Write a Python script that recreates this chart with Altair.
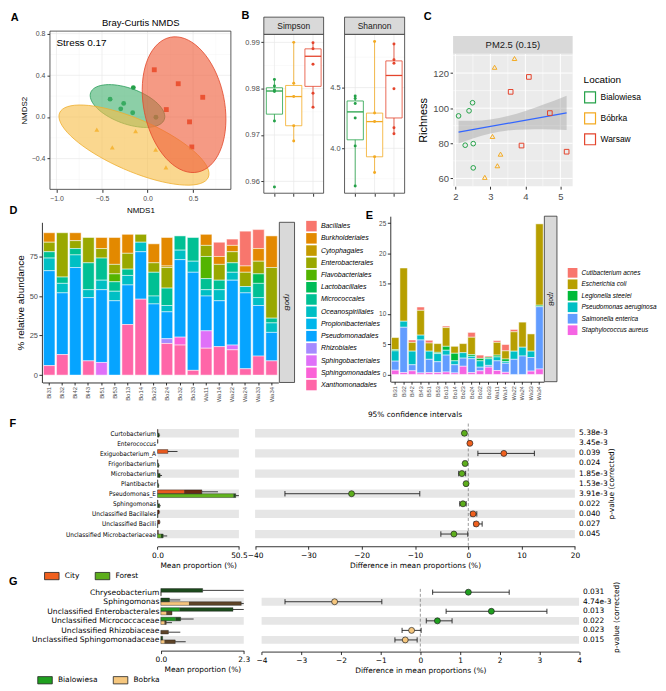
import math
import altair as alt
import pandas as pd

S = 0.975
W, H = 650, 675


def P(v):
    return round(v * S, 2)


SANS = "Liberation Sans, Arial, Helvetica, sans-serif"
MPL = "DejaVu Sans, Bitstream Vera Sans, sans-serif"
MPLC = "DejaVu Sans Condensed, DejaVu Sans, sans-serif"
GRAY30 = "#4D4D4D"

# ---------------- shared ----------------
LOCS = ["Bialowiesa", "Bóbrka", "Warsaw"]
LOC_COLORS = ["#24A148", "#F3AA22", "#E4442C"]

# ---------------- A : Bray-Curtis NMDS ----------------
A_LOC = ["Warsaw"] * 6 + ["Bialowiesa"] * 6 + ["Bóbrka"] * 5
A_X = [0.074, 0.337, 0.606, 0.206, 0.461, 0.486,
       -0.156, -0.411, -0.262, -0.294, -0.163, 0.092,
       -0.557, -0.131, -0.387, 0.089, 0.202]
A_Y = [0.453, 0.319, 0.189, 0.071, -0.047, -0.288,
       0.282, 0.171, 0.130, 0.078, 0.040, -0.003,
       -0.121, -0.136, -0.291, -0.313, -0.484]
A_SHAPES = ["circle", "triangle-up", "square"]
# ellipse centre and half-axis vectors (Bialowiesa, Bobrka, Warsaw)
ELL_CX = [-0.220, -0.149, 0.401]
ELL_CY = [0.105, -0.270, 0.118]
ELL_UX = [0.404, 0.816, 0.151]
ELL_UY = [-0.129, -0.310, -0.647]
ELL_VX = [0.067, 0.113, 0.434]
ELL_VY = [0.160, 0.228, 0.078]
ELL_FILL = ["#45B271", "#F7BE4A", "#EF5C38"]
ELL_STROKE = ["#2A9D5A", "#EFAE2E", "#E2472A"]
A_MAJOR_X = [-1.0, -0.5, 0.0, 0.5]
A_MINOR_X = [-0.75, -0.25, 0.25, 0.75]
A_MAJOR_Y = [-0.4, 0.0, 0.4, 0.8]
A_MINOR_Y = [-0.6, -0.2, 0.2, 0.6]

# ---------------- B : alpha diversity ----------------
SIMP_LO = [0.9730, 0.9687, 0.9760]
SIMP_Q1 = [0.9745, 0.9720, 0.9805]
SIMP_MED = [0.9795, 0.9783, 0.9870]
SIMP_Q3 = [0.9802, 0.9807, 0.9886]
SIMP_HI = [0.9820, 0.9900, 0.9899]
SIMP_PTS = [[0.9820, 0.9806, 0.9797, 0.9794, 0.9730, 0.9588],
            [0.9900, 0.9812, 0.9783, 0.9720, 0.9687],
            [0.9899, 0.9886, 0.9853, 0.9790, 0.9760]]
SHAN_LO = [3.69, 3.80, 4.12]
SHAN_Q1 = [4.07, 3.93, 4.25]
SHAN_MED = [4.30, 4.22, 4.60]
SHAN_Q3 = [4.39, 4.29, 4.72]
SHAN_HI = [4.43, 4.88, 4.86]
SHAN_PTS = [[4.43, 4.41, 4.37, 4.25, 4.02, 3.69],
            [4.88, 4.29, 4.22, 3.93, 3.80],
            [4.86, 4.73, 4.70, 4.49, 4.17, 4.12]]

# ---------------- C : richness vs PM2.5 ----------------
C_LOC = ["Bialowiesa"] * 6 + ["Bóbrka"] * 6 + ["Warsaw"] * 5
C_PM = [2.09, 2.39, 2.49, 2.28, 2.51, 2.51,
        3.69, 3.12, 3.06, 3.29, 3.20, 2.84,
        4.10, 3.58, 4.70, 3.89, 5.18]
C_RICH = [95.6, 98.5, 103.1, 78.9, 79.8, 66.0,
          128.3, 123.3, 83.9, 73.8, 67.2, 60.6,
          117.8, 109.3, 97.2, 78.7, 75.2]
C_SHAPES = ["circle", "triangle-up", "square"]
C_BAND_X = [2.09, 2.5, 3.0, 3.5, 4.0, 4.5, 5.18]
C_BAND_LO = [79.9, 82.7, 85.6, 87.3, 87.9, 88.0, 87.6]
C_BAND_HI = [92.9, 92.9, 93.6, 95.5, 98.4, 101.9, 107.1]

# ---------------- D / E : stacked bars ----------------
SAMPLES = ["Bi31", "Bi32", "Bi42", "Bi43", "Bi51", "Bi53", "Bo13", "Bo14", "Bo23",
           "Bo24", "Bo32", "Bo33", "Wa11", "Wa14", "Wa22", "Wa24", "Wa33", "Wa34"]
D_ORDERS = ["Bacillales", "Burkholderiales", "Cytophagales", "Enterobacterales",
            "Flavobacteriales", "Lactobacillales", "Micrococcales", "Oceanospirillales",
            "Propionibacteriales", "Pseudomonadales", "Rhizobiales", "Sphingobacteriales",
            "Sphingomonadales", "Xanthomonadales"]
D_COLORS = ["#F8766D", "#E38900", "#C49A00", "#99A800", "#53B400", "#00BC56", "#00C094",
            "#00BFC4", "#00B6EB", "#06A4FF", "#A58AFF", "#DF70F8", "#FB61D7", "#FF66A8"]
D_BACILLALES = [0, 0, 0, 0, 0, 0, 0, 0, 0, 0, 0, 0, 0, 9, 4, 22, 12, 0]
D_BURKHOLDERIALES = [6, 0, 5, 0, 7, 17, 12, 0, 12, 18, 0, 0, 7, 5, 4, 4, 8, 20]
D_CYTOPHAGALES = [0, 0, 0, 0, 0, 0, 0, 0, 0, 1, 0, 0, 0, 0, 0, 0, 0, 0]
D_ENTEROBACTERALES = [6, 28, 5, 16, 6, 6, 10, 5, 6, 13, 0, 0, 7, 10, 7, 9, 8, 32]
D_FLAVOBACTERIALES = [0, 0, 0, 0, 0, 5, 0, 0, 0, 0, 0, 0, 14, 0, 0, 0, 0, 0]
D_LACTOBACILLALES = [0, 0, 0, 0, 0, 0, 0, 0, 0, 0, 0, 0, 0, 0, 0, 0, 6, 0]
D_MICROCOCCALES = [4, 4, 4, 17, 14, 6, 4, 0, 15, 11, 9, 15, 7, 6, 6, 0, 9, 3]
D_OCEANOSPIRILLALES = [8, 6, 8, 5, 6, 6, 6, 6, 5, 4, 6, 7, 4, 7, 5, 4, 5, 6]
D_PROPIONIBACTERIALES = [0] * 18
D_PSEUDOMONADALES = [60, 39, 68, 40, 46, 47, 25, 30, 45, 17, 49, 62, 22, 29, 41, 48, 32, 18]
D_RHIZOBIALES = [0, 0, 0, 0, 0, 0, 0, 0, 0, 3, 0, 0, 0, 0, 0, 0, 0, 0]
D_SPHINGOBACTERIALES = [0, 0, 0, 0, 8, 0, 0, 0, 0, 0, 0, 0, 11, 0, 3, 0, 0, 0]
D_SPHINGOMONADALES = [0, 0, 0, 0, 0, 0, 0, 0, 0, 0, 5, 0, 0, 0, 0, 0, 0, 0]
D_XANTHOMONADALES = [6, 13, 0, 9, 0, 0, 32, 48, 0, 20, 19, 3, 17, 18, 16, 4, 12, 9]
D_VALUES = [D_BACILLALES, D_BURKHOLDERIALES, D_CYTOPHAGALES, D_ENTEROBACTERALES,
            D_FLAVOBACTERIALES, D_LACTOBACILLALES, D_MICROCOCCALES, D_OCEANOSPIRILLALES,
            D_PROPIONIBACTERIALES, D_PSEUDOMONADALES, D_RHIZOBIALES, D_SPHINGOBACTERIALES,
            D_SPHINGOMONADALES, D_XANTHOMONADALES]

E_SPECIES = ["Cutibacterium acnes", "Escherichia coli", "Legionella steelei",
             "Pseudomonas aeruginosa", "Salmonella enterica", "Staphylococcus aureus"]
E_COLORS = ["#F8766D", "#B79F00", "#00BA38", "#00BFC4", "#619CFF", "#F564E3"]
E_CUTIBACTERIUM = [0, 0, 0.4, 0.55, 0.45, 0, 0.25, 0, 0, 0.8, 0.55, 0.2, 0.3, 1.05, 0.4, 0, 0, 0]
E_ECOLI = [2.0, 8.8, 1.45, 4.1, 1.35, 1.45, 3.1, 1.15, 1.5, 2.85, 0, 0, 2.1, 1.35, 3.2, 4.15, 2.85, 13.45]
E_LEGIONELLA = [0.2, 0, 0, 0, 0, 0.2, 0.65, 1.25, 0, 0.3, 0.4, 0.25, 0.3, 0.4, 0, 0, 0, 0.25]
E_PAERUGINOSA = [1.7, 1.0, 2.25, 0.8, 1.35, 1.35, 0.8, 0.65, 0.9, 0.4, 1.05, 1.1, 0.65, 0.3, 1.35, 1.45, 1.05, 0]
E_SALMONELLA = [1.5, 7.5, 1.0, 5.45, 2.2, 1.8, 2.8, 1.35, 1.35, 2.3, 0.6, 0.3, 1.6, 1.5, 2.5, 3.05, 2.25, 10.3]
E_STAPH = [0.7, 0.3, 0.6, 0.25, 0.3, 0.3, 0.4, 0.25, 1.35, 0.3, 0.6, 1.2, 0.65, 0.35, 0, 0, 0.55, 0.9]
E_VALUES = [E_CUTIBACTERIUM, E_ECOLI, E_LEGIONELLA, E_PAERUGINOSA, E_SALMONELLA, E_STAPH]

# ---------------- F : City vs Forest ----------------
F_NAMES = ["Curtobacterium", "Enterococcus", "Exiguobacterium_A", "Frigoribacterium",
           "Microbacterium", "Plantibacter", "Pseudomonas_E", "Sphingomonas",
           "Unclassified Bacillales", "Unclassified Bacilli", "Unclassified Microbacteriaceae"]
F_DIFF = [-0.73, 0.30, 6.67, -0.60, -1.20, -0.42, -21.9, -1.00, 0.90, 1.50, -2.70]
F_LO = [-1.00, 0.15, 1.80, -0.85, -1.80, -0.65, -34.4, -1.60, 0.50, 1.10, -5.15]
F_HI = [-0.45, 0.45, 12.4, -0.35, -0.50, -0.20, -9.1, -0.40, 1.60, 2.60, -0.10]
F_P = ["5.38e-3", "3.45e-3", "0.039", "0.024", "1.85e-3", "1.53e-3", "3.91e-3",
       "0.022", "0.040", "0.027", "0.045"]
F_GROUPS = ["City", "Forest"]
F_CITY_LIGHT = [0, 0, 6.4, 0, 0, 0, 16.5, 0, 0, 0, 0]
F_CITY_BAR = [0.3, 0.3, 6.4, 0.2, 0.4, 0.2, 27.5, 0.3, 1.0, 1.3, 0.5]
F_CITY_ERR = [0.3, 0.3, 12.4, 0.2, 0.4, 0.2, 37.5, 0.3, 1.6, 1.8, 0.5]
F_FOREST_LIGHT = [0, 0, 0, 0, 0, 0, 47.0, 0, 0, 0, 2.0]
F_FOREST_BAR = [1.0, 0, 0, 0.8, 1.6, 0.7, 48.5, 1.3, 0.3, 0.2, 3.5]
F_FOREST_ERR = [1.6, 0, 0, 1.2, 2.8, 1.0, 50.5, 2.0, 0.3, 0.2, 6.0]

# ---------------- G : Bialowiesa vs Bobrka ----------------
G_NAMES = ["Chryseobacterium", "Sphingomonas", "Unclassified Enterobacterales",
           "Unclassified Micrococcaceae", "Unclassified Rhizobiaceae",
           "Unclassified Sphingomonadaceae"]
G_DIFF = [1.21, -2.16, 1.79, 0.43, -0.22, -0.38]
G_LO = [0.31, -3.41, 0.65, 0.15, -0.46, -0.64]
G_HI = [2.24, -0.97, 3.19, 0.80, 0.02, -0.08]
G_P = ["0.031", "4.74e-3", "0.013", "0.022", "0.023", "0.015"]
G_GROUPS = ["Bialowiesa", "Bobrka"]
G_BIA_LIGHT = [0, 0, 0.51, 0.40, 0, 0]
G_BIA_BAR = [1.16, 0.24, 2.0, 0.55, 0, 0.05]
G_BIA_ERR = [2.3, 0.54, 2.3, 0.91, 0, 0.05]
G_BOB_LIGHT = [0, 0.78, 0.15, 0.10, 0, 0.10]
G_BOB_BAR = [0.01, 2.23, 0.31, 0.15, 0.21, 0.40]
G_BOB_ERR = [0.01, 2.3, 0.31, 0.31, 0.54, 0.69]


# =============== helpers ===============
def one():
    return alt.Data(values=[{"k": 0}])


def txt(s, x, y, size, font=SANS, weight="normal", angle=None, align="center",
        baseline="middle", style=None, color="black"):
    kw = dict(text=s, fontSize=size, font=font, fontWeight=weight, align=align,
              baseline=baseline, color=color)
    if angle is not None:
        kw["angle"] = angle
    if style:
        kw["fontStyle"] = style
    return alt.Chart(one()).mark_text(**kw).encode(x=alt.value(P(x)), y=alt.value(P(y)))


def rect(x1, y1, x2, y2, fill="transparent", stroke=None, sw=0.8):
    kw = dict(fill=fill)
    if stroke:
        kw.update(stroke=stroke, strokeWidth=sw)
    else:
        kw.update(strokeWidth=0)
    return alt.Chart(one()).mark_rect(**kw).encode(
        x=alt.value(P(x1)), x2=alt.value(P(x2)), y=alt.value(P(y1)), y2=alt.value(P(y2)))


def vgrid(vals, xs, xaxis, y1, y2, color, w):
    return alt.Chart(pd.DataFrame({"v": vals})).mark_rule(color=color, strokeWidth=w).encode(
        x=alt.X("v:Q", scale=xs, axis=xaxis), y=alt.value(P(y1)), y2=alt.value(P(y2)))


def hgrid(vals, ys, yaxis, x1, x2, color, w):
    return alt.Chart(pd.DataFrame({"v": vals})).mark_rule(color=color, strokeWidth=w).encode(
        y=alt.Y("v:Q", scale=ys, axis=yaxis), x=alt.value(P(x1)), x2=alt.value(P(x2)))


def AX(orient, offset, values=None, fmt=None, title=None, font=SANS, lsize=7.5, tsize=9,
       domain=False, ticks=True, labels=True, lcolor=GRAY30, tpad=3, lpad=2, tick=3, **kw):
    d = dict(orient=orient, offset=offset, grid=False, labelFont=font, titleFont=font,
             labelFontSize=lsize, titleFontSize=tsize, labelColor=lcolor, titleColor="black",
             titleFontWeight="normal", tickColor="#333333", tickSize=tick, domain=domain,
             ticks=ticks, labels=labels, labelFlush=False, labelOverlap=False,
             labelPadding=lpad, titlePadding=tpad, title=title)
    if domain:
        d["domainColor"] = "#000000"
        d["domainWidth"] = 0.8
    if values is not None:
        d["values"] = values
    if fmt:
        d["format"] = fmt
    d.update(kw)
    return alt.Axis(**d)


def lin(dom, rng):
    return alt.Scale(domain=dom, range=rng, nice=False, zero=False)


layers = []

# =============== A ===============
ax = lin([-1.0713, 0.915], [P(43.3), P(230)])
ay = lin([-0.695, 0.8242], [P(185), P(21.7)])
AXX = AX("bottom", P(185) - H, values=A_MAJOR_X, fmt=".1f", title="NMDS1", lsize=7,
         tsize=8, tpad=5)
AXY = AX("left", -P(43.3), values=A_MAJOR_Y, fmt=".1f", title="NMDS2", lsize=7, tsize=8,
         tpad=3)
a_df = pd.DataFrame({"x": A_X, "y": A_Y, "loc": A_LOC})
a_df["c"] = [LOC_COLORS[LOCS.index(v)] for v in A_LOC]
a_df["s"] = [A_SHAPES[LOCS.index(v)] for v in A_LOC]
a_layers = [
    rect(43.3, 21.7, 230, 185, fill="white"),
    vgrid(A_MINOR_X, ax, AXX, 21.7, 185, "#F3F3F3", 0.4),
    hgrid(A_MINOR_Y, ay, AXY, 43.3, 230, "#F3F3F3", 0.4),
    vgrid(A_MAJOR_X, ax, AXX, 21.7, 185, "#E8E8E8", 0.7),
    hgrid(A_MAJOR_Y, ay, AXY, 43.3, 230, "#E8E8E8", 0.7),
    alt.Chart(a_df).mark_point(filled=True, size=24, opacity=1).encode(
        x=alt.X("x:Q", scale=ax, axis=AXX),
        y=alt.Y("y:Q", scale=ay, axis=AXY),
        color=alt.Color("c:N", scale=None),
        shape=alt.Shape("s:N", scale=None)),
]
for k in range(3):
    rows = []
    for t in range(73):
        a = 2 * math.pi * t / 72
        rows.append({"t": t,
                     "x": ELL_CX[k] + ELL_UX[k] * math.cos(a) + ELL_VX[k] * math.sin(a),
                     "y": ELL_CY[k] + ELL_UY[k] * math.cos(a) + ELL_VY[k] * math.sin(a)})
    a_layers.append(
        alt.Chart(pd.DataFrame(rows)).mark_line(
            interpolate="linear-closed", fill=ELL_FILL[k], fillOpacity=0.62,
            stroke=ELL_STROKE[k], strokeWidth=0.8).encode(
            x=alt.X("x:Q", scale=ax, axis=AXX), y=alt.Y("y:Q", scale=ay, axis=AXY),
            order="t:Q"))
a_layers += [
    rect(43.3, 21.7, 230, 185, stroke="#333333", sw=0.8),
    txt("Stress 0.17", 50, 33.5, 10, align="left"),
    txt("Bray-Curtis NMDS", 137, 13.3, 9.5),
]
layers.append(alt.layer(*a_layers))


# =============== B ===============
def box_panel(lo, q1, med, q3, hi, pts, x0, x1, ydom, ticks, minor, fmt, strip):
    xs = lin([0.45, 3.55], [P(x0), P(x1)])
    ys = lin(ydom, [P(189), P(25)])
    BX = AX("bottom", P(189) - H, values=[1, 2, 3], labels=False, tick=3)
    BY = AX("left", -P(x0), values=ticks, fmt=fmt, lsize=7.5, lpad=1.5)
    st = pd.DataFrame({"pos": [1, 2, 3], "lo": lo, "q1": q1, "med": med, "q3": q3,
                       "hi": hi, "c": LOC_COLORS})
    st["xl"] = st["pos"] - 0.42
    st["xr"] = st["pos"] + 0.42
    recs = []
    for k, vals in enumerate(pts):
        for v in vals:
            recs.append({"pos": k + 1, "v": v, "c": LOC_COLORS[k]})
    pdf = pd.DataFrame(recs)
    return alt.layer(
        rect(x0, 25, x1, 189, fill="white"),
        hgrid(minor, ys, BY, x0, x1, "#F3F3F3", 0.4),
        hgrid(ticks, ys, BY, x0, x1, "#E8E8E8", 0.7),
        vgrid([1, 2, 3], xs, BX, 25, 189, "#E8E8E8", 0.7),
        alt.Chart(st).mark_rule(strokeWidth=0.8).encode(
            x=alt.X("pos:Q", scale=xs, axis=BX), y=alt.Y("lo:Q", scale=ys, axis=BY),
            y2="hi", color=alt.Color("c:N", scale=None)),
        alt.Chart(st).mark_rect(fill="white", strokeWidth=0.8).encode(
            x=alt.X("xl:Q", scale=xs, axis=BX),
            x2="xr", y=alt.Y("q1:Q", scale=ys, axis=BY), y2="q3",
            stroke=alt.Stroke("c:N", scale=None)),
        alt.Chart(st).mark_rule(strokeWidth=1.3).encode(
            x=alt.X("xl:Q", scale=xs, axis=BX), x2="xr",
            y=alt.Y("med:Q", scale=ys, axis=BY), color=alt.Color("c:N", scale=None)),
        alt.Chart(pdf).mark_circle(size=9, opacity=1).encode(
            x=alt.X("pos:Q", scale=xs, axis=BX),
            y=alt.Y("v:Q", scale=ys, axis=BY),
            color=alt.Color("c:N", scale=None)),
        rect(x0, 25, x1, 189, stroke="#333333", sw=0.8),
        rect(x0, 7.3, x1, 25, fill="#D9D9D9", stroke="#333333", sw=0.8),
        txt(strip, (x0 + x1) / 2, 16.3, 8.5, color="#1A1A1A"),
    )


layers.append(box_panel(SIMP_LO, SIMP_Q1, SIMP_MED, SIMP_Q3, SIMP_HI, SIMP_PTS, 264, 325.7,
                        [0.95743, 0.99174], [0.96, 0.97, 0.98, 0.99],
                        [0.965, 0.975, 0.985], ".2f", "Simpson"))
layers.append(box_panel(SHAN_LO, SHAN_Q1, SHAN_MED, SHAN_Q3, SHAN_HI, SHAN_PTS, 347.3, 409.3,
                        [3.630, 4.939], [4.0, 4.5], [3.75, 4.25, 4.75], ".1f", "Shannon"))

# =============== C ===============
cx = lin([1.9335, 5.352], [P(459.3), P(582.7)])
cy = lin([55.58, 131.04], [P(181.7), P(45)])
CXA = AX("bottom", P(181.7) - H, values=[2, 3, 4, 5], lsize=9.5, lpad=2)
CYA = AX("left", -P(459.3), values=[60, 80, 100, 120], lsize=9.5, lpad=1.5, title="Richness",
         tsize=11, tpad=4)
c_df = pd.DataFrame({"pm": C_PM, "rich": C_RICH, "loc": C_LOC})
c_df["shp"] = [C_SHAPES[LOCS.index(v)] for v in C_LOC]
c_band = pd.DataFrame({"bx": C_BAND_X, "lo": C_BAND_LO, "hi": C_BAND_HI})
layers.append(alt.layer(
    rect(459.3, 45, 582.7, 181.7, fill="#EBEBEB"),
    vgrid([2.5, 3.5, 4.5], cx, CXA, 45, 181.7, "white", 0.5),
    hgrid([70, 90, 110, 130], cy, CYA, 459.3, 582.7, "white", 0.5),
    vgrid([2, 3, 4, 5], cx, CXA, 45, 181.7, "white", 1.0),
    hgrid([60, 80, 100, 120], cy, CYA, 459.3, 582.7, "white", 1.0),
    alt.Chart(c_band).mark_area(color="#999999", opacity=0.4, interpolate="monotone").encode(
        x=alt.X("bx:Q", scale=cx, axis=CXA), y=alt.Y("lo:Q", scale=cy, axis=CYA), y2="hi"),
    alt.Chart(c_df).transform_regression("pm", "rich").mark_line(
        color="#3366FF", strokeWidth=1.3).encode(
        x=alt.X("pm:Q", scale=cx, axis=CXA), y=alt.Y("rich:Q", scale=cy, axis=CYA)),
    alt.Chart(c_df).mark_point(filled=False, size=22, strokeWidth=1, opacity=1).encode(
        x=alt.X("pm:Q", scale=cx, axis=CXA),
        y=alt.Y("rich:Q", scale=cy, axis=CYA),
        color=alt.Color("loc:N", scale=alt.Scale(domain=LOCS, range=LOC_COLORS),
                        legend=alt.Legend(orient="none", legendX=P(594), legendY=P(67),
                                          title="Location", titleFont=SANS,
                                          titleFontSize=10, titleFontWeight="normal",
                                          titlePadding=6, labelFont=SANS, labelFontSize=8.5,
                                          labelColor="black", symbolType="square",
                                          symbolSize=120, symbolStrokeWidth=1.2,
                                          symbolFillColor="white", rowPadding=4.1,
                                          labelOffset=4, padding=0)),
        shape=alt.Shape("shp:N", scale=None)),
    rect(459.3, 26.7, 582.7, 45, fill="#D9D9D9"),
    txt("PM2.5 (0.15)", 521, 36, 9.5, color="#1A1A1A"),
))


# =============== D and E ===============
def stacked(cats, colors, values, xr, yr_px, ydom, yticks, strip_x, leg, lsize, ysize,
            legsym, legrow, legfont, ytitle=None):
    recs = []
    n = len(cats)
    for j, c in enumerate(cats):
        for s, v in zip(SAMPLES, values[j]):
            if v > 0:
                recs.append({"sample": s, "cat": c, "v": v, "ord": n - j})
    df = pd.DataFrame(recs)
    xs = alt.Scale(domain=SAMPLES, range=[P(xr[0]), P(xr[1])], paddingInner=0.12,
                   paddingOuter=0.08)
    ys = lin(ydom, [P(yr_px[1]), P(yr_px[0])])
    yax = AX("left", -P(xr[0] - 0.5), values=yticks, lsize=ysize, domain=True, lpad=1.5,
             title=ytitle, tsize=10, tpad=4)
    return alt.layer(
        alt.Chart(df).mark_bar(stroke="white", strokeWidth=0.5).encode(
            x=alt.X("sample:N", scale=xs,
                    axis=AX("bottom", P(yr_px[1]) - H, lsize=lsize, domain=True,
                            labelAngle=270, tick=2.5, lpad=1.5)),
            y=alt.Y("v:Q", stack="zero", scale=ys, axis=yax),
            color=alt.Color("cat:N", scale=alt.Scale(domain=cats, range=colors), title=None,
                            legend=alt.Legend(orient="none", legendX=P(leg[0]),
                                              legendY=P(leg[1]), symbolType="square",
                                              symbolSize=legsym, symbolStrokeWidth=0,
                                              labelFont=SANS, labelFontSize=legfont,
                                              labelFontStyle="italic", labelColor="black",
                                              labelOffset=4, rowPadding=legrow, padding=0,
                                              labelLimit=220)),
            order=alt.Order("ord:Q")),
        rect(strip_x[0], yr_px[0], strip_x[1], yr_px[1], fill="#D9D9D9", stroke="#333333",
             sw=0.8),
        txt("rpoB", (strip_x[0] + strip_x[1]) / 2, (yr_px[0] + yr_px[1]) / 2,
            8 if ytitle else 6.5, style="italic", angle=90, color="#1A1A1A"),
    )


layers.append(stacked(D_ORDERS, D_COLORS, D_VALUES, (35.5, 279), (219, 384.3),
                      [-4.66, 96.6], [0, 25, 50, 75], (280, 295.7), (307.5, 217.3),
                      6, 7.5, 112, 1.3, 7, ytitle="% relative abundance"))
layers.append(stacked(E_SPECIES, E_COLORS, E_VALUES, (395, 553), (212.7, 383.5),
                      [-1.2, 26.17], [0, 5, 10, 15, 20, 25], (553.5, 566.5), (577.5, 266),
                      5.5, 6.5, 95, 1.55, 6.5))


# =============== F and G (extended error bar plots) ===============
def stamp(names, diffs, los, his, pvals, g1, g2, groups, light, dark, dotc,
          lx, lmax, rdom, rticks, rx, rows_y, axy, band_par, px, rot_xy, dash_y, leg_xy,
          name_font, name_size, top_title=None):
    n = len(names)
    ys = lin([-0.5, n - 0.5], [P(rows_y[0]), P(rows_y[1])])
    xl = lin([0, lmax], [P(lx[0]), P(lx[1])])
    xr = lin(rdom, [P(rx[0]), P(rx[1])])
    label_expr = "[" + ",".join("'" + s + "'" for s in names) + "][datum.value]"
    XLA = AX("bottom", P(axy[0]) - H, values=[0, lmax], fmt=".1f",
             title="Mean proportion (%)", font=MPL, lsize=7.5, tsize=7.5, domain=True,
             lcolor="black", tpad=3)
    YLA = AX("left", -P(lx[0]), values=list(range(n)), labelExpr=label_expr, font=name_font,
             lsize=name_size, lcolor="black", ticks=False, lpad=2)
    XRA = AX("bottom", P(axy[1]) - H, values=rticks, fmt="d",
             title="Difference in mean proportions (%)", font=MPL, lsize=7.5, tsize=7.5,
             domain=True, lcolor="black", tpad=3)
    band_rows = [i for i in range(n) if i % 2 == band_par]
    bl = pd.DataFrame({"i": band_rows})
    bl["y0"] = bl["i"] - 0.41
    bl["y1"] = bl["i"] + 0.41
    bl["a"] = 0.0
    bl["b"] = lmax
    br = bl.copy()
    br["a"] = float(rdom[0])
    br["b"] = float(rdom[1])
    recs = []
    for k, (L, B, E) in enumerate([g1, g2]):
        for i in range(n):
            y0 = i - 0.38 if k == 0 else i
            y1 = i if k == 0 else i + 0.38
            recs.append(dict(i=i, y0=y0, y1=y1, ym=(y0 + y1) / 2, z=0.0, l=L[i], d=B[i],
                             e=E[i], lc=light[k], dc=dark[k]))
    bd = pd.DataFrame(recs)
    left = alt.layer(
        alt.Chart(bl).mark_rect(fill="#E6E6E6", strokeWidth=0).encode(
            x=alt.X("a:Q", scale=xl, axis=XLA), x2="b",
            y=alt.Y("y0:Q", scale=ys, axis=YLA), y2="y1"),
        alt.Chart(bd[bd["l"] > 0]).mark_rect(strokeWidth=0).encode(
            x=alt.X("z:Q", scale=xl, axis=XLA), x2="l",
            y=alt.Y("y0:Q", scale=ys, axis=YLA), y2="y1",
            fill=alt.Fill("lc:N", scale=None)),
        alt.Chart(bd[bd["d"] > bd["l"]]).mark_rect(strokeWidth=0).encode(
            x=alt.X("l:Q", scale=xl, axis=XLA), x2="d",
            y=alt.Y("y0:Q", scale=ys, axis=YLA), y2="y1",
            fill=alt.Fill("dc:N", scale=None)),
        alt.Chart(bd[bd["d"] > 0]).mark_rect(fill="transparent", stroke="#1A1A1A",
                                             strokeWidth=0.4).encode(
            x=alt.X("z:Q", scale=xl, axis=XLA), x2="d",
            y=alt.Y("y0:Q", scale=ys, axis=YLA), y2="y1"),
        alt.Chart(bd[bd["e"] > bd["d"]]).mark_rule(color="#111111", strokeWidth=0.8).encode(
            x=alt.X("d:Q", scale=xl, axis=XLA), x2="e",
            y=alt.Y("ym:Q", scale=ys, axis=YLA)),
    )
    pts = pd.DataFrame({"i": list(range(n)), "d": diffs, "lo": los, "hi": his, "p": pvals})
    pts["grp"] = [groups[0] if v > 0 else groups[1] for v in diffs]
    caps = pd.DataFrame({"cx": list(los) + list(his), "i": list(range(n)) * 2})
    caps["c0"] = caps["i"] - 0.27
    caps["c1"] = caps["i"] + 0.27
    right_layers = [
        alt.Chart(br).mark_rect(fill="#E6E6E6", strokeWidth=0).encode(
            x=alt.X("a:Q", scale=xr, axis=XRA),
            x2="b", y=alt.Y("y0:Q", scale=ys, axis=None), y2="y1"),
        alt.Chart(pd.DataFrame({"z": [0.0]})).mark_rule(
            color="#7F7F7F", strokeDash=[3, 2], strokeWidth=0.8).encode(
            x=alt.X("z:Q", scale=xr, axis=XRA), y=alt.value(P(dash_y[0])),
            y2=alt.value(P(dash_y[1]))),
        alt.Chart(pts).mark_rule(color="#222222", strokeWidth=0.9).encode(
            x=alt.X("lo:Q", scale=xr, axis=XRA), x2="hi",
            y=alt.Y("i:Q", scale=ys, axis=None)),
        alt.Chart(caps).mark_rule(color="#222222", strokeWidth=0.9).encode(
            x=alt.X("cx:Q", scale=xr, axis=XRA), y=alt.Y("c0:Q", scale=ys, axis=None),
            y2="c1"),
        alt.Chart(pts).mark_point(filled=True, shape="circle", size=36, stroke="#222222",
                                  strokeWidth=0.7, opacity=1).encode(
            x=alt.X("d:Q", scale=xr, axis=XRA), y=alt.Y("i:Q", scale=ys, axis=None),
            fill=alt.Fill("grp:N", scale=alt.Scale(domain=groups, range=dotc), title=None,
                          legend=alt.Legend(orient="none", legendX=P(leg_xy[0]),
                                            legendY=P(leg_xy[1]), direction="horizontal",
                                            symbolType="M-1,-0.5H1V0.5H-1Z",
                                            symbolSize=round(P(15) ** 2, 1),
                                            symbolStrokeColor="#222222",
                                            symbolStrokeWidth=0.8, symbolOpacity=1,
                                            labelFont=MPL, labelFontSize=7.5,
                                            labelColor="black", labelOffset=5,
                                            columnPadding=14, padding=0))),
        alt.Chart(pts).mark_text(align="left", baseline="middle", font=MPL, fontSize=7.5,
                                 color="black").encode(
            x=alt.value(P(px)), y=alt.Y("i:Q", scale=ys, axis=None), text="p:N"),
        txt("p-value (corrected)", rot_xy[0], rot_xy[1], 7.5, font=MPL, angle=270),
    ]
    if top_title:
        right_layers.append(txt(top_title, (rx[0] + rx[1]) / 2, 418.3, 7.5, font=MPL))
    return [left, alt.layer(*right_layers)]


layers += stamp(F_NAMES, F_DIFF, F_LO, F_HI, F_P,
                (F_CITY_LIGHT, F_CITY_BAR, F_CITY_ERR),
                (F_FOREST_LIGHT, F_FOREST_BAR, F_FOREST_ERR),
                F_GROUPS, ["#E8591F", "#62B31F"], ["#6A2A12", "#24501A"],
                ["#F0601E", "#5DAE1C"],
                (154.3, 238.3), 50.5, [-40, 20], [-40, -30, -20, -10, 0, 10, 20], (255, 585),
                (431.5, 545.9), (553.3, 553.3), 0, 589.3, (623.3, 489), (426.7, 553),
                (37, 575.5), MPLC, 6.5, top_title="95% confidence intervals")
layers += stamp(G_NAMES, G_DIFF, G_LO, G_HI, G_P,
                (G_BIA_LIGHT, G_BIA_BAR, G_BIA_ERR),
                (G_BOB_LIGHT, G_BOB_BAR, G_BOB_ERR),
                G_GROUPS, ["#1E9B22", "#F6C47C"], ["#1C4A1C", "#5E4428"],
                ["#1FA01F", "#F6C77E"],
                (157.7, 243.3), 2.3, [-4, 4], [-4, -3, -2, -1, 0, 1, 2, 3, 4],
                (261.7, 589.3), (595.8, 654.9), (661, 662), 1, 593.3, (628.3, 626.7),
                (597.3, 662), (30, 683), MPL, 7.6)

# =============== panel letters ===============
for letter, lx_, ly_ in [("A", 7, 8), ("B", 245, 6.5), ("C", 433, 7), ("D", 5.5, 207),
                         ("E", 373, 213), ("F", 5, 427), ("G", 5.5, 590)]:
    layers.append(txt(letter, lx_, ly_, 11, weight="bold"))

chart = alt.layer(*layers).properties(
    width=W, height=H, padding=0, background="white"
).resolve_scale(
    x="independent", y="independent", color="independent", fill="independent",
    shape="independent", stroke="independent"
).configure_view(strokeWidth=0)

chart.save("out.html", embed_options={"renderer": "svg", "actions": False})
